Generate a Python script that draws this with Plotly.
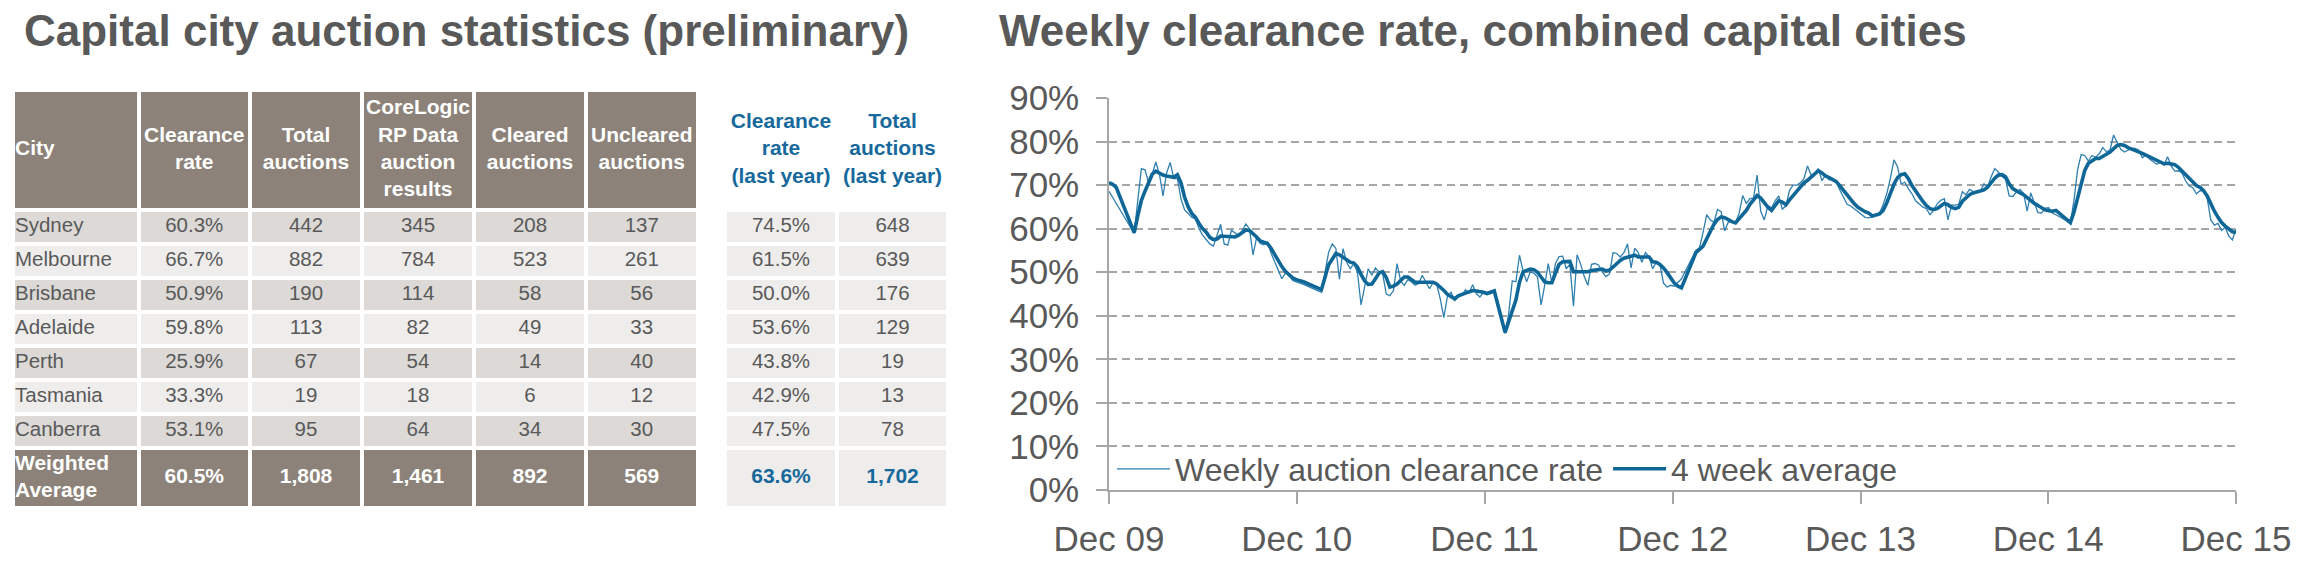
import pandas as pd
import plotly.graph_objects as go

# ---------------- table data ----------------
cities = ["Sydney", "Melbourne", "Brisbane", "Adelaide", "Perth", "Tasmania", "Canberra"]
clearance_rate = [60.3, 66.7, 50.9, 59.8, 25.9, 33.3, 53.1]
total_auctions = [442, 882, 190, 113, 67, 19, 95]
corelogic_results = [345, 784, 114, 82, 54, 18, 64]
cleared_auctions = [208, 523, 58, 49, 14, 6, 34]
uncleared_auctions = [137, 261, 56, 33, 40, 12, 30]
ly_clearance_rate = [74.5, 61.5, 50.0, 53.6, 43.8, 42.9, 47.5]
ly_total_auctions = [648, 639, 176, 129, 19, 13, 78]

avg_label = "Weighted<br>Average"
avg_main = [60.5, 1808, 1461, 892, 569]
avg_last_year = [63.6, 1702]

main_headers = ["City", "Clearance<br>rate", "Total<br>auctions",
                "CoreLogic<br>RP Data<br>auction<br>results",
                "Cleared<br>auctions", "Uncleared<br>auctions"]
ly_headers = ["Clearance<br>rate<br>(last year)", "Total<br>auctions<br>(last year)"]

# ---------------- chart data (weekly, from first week of Dec 2009) ----------------
first_week = "2009-12-06"
weekly_rate = [
    # Dec 09 - Dec 10
    68.6, None, None, None, None, None, None, 58.9, 66.5, 73.8, 73.5, 70.5, 72.5,
    75.3, 72.5, 67.5, 72.8, 75.2, 71.5, 71.5, 66.8, 64.3, 63.5, 62.6, 62.3, 60.0,
    58.5, 57.5, 56.5, 56.0, 58.8, 61.0, 56.5, 56.2, 59.6, 59.0, 58.5, 59.5, 61.1,
    60.0, 54.0, 58.0, 56.6, 56.3, 56.9, 54.4, 52.5, 50.8, 48.5, 49.8, 49.5, 48.1,
    # Dec 10 - Dec 11
    47.8, 47.5, 47.2, None, None, None, None, 45.4, 50.5, 54.6, 56.5, 55.5, 48.4,
    55.4, 52.3, 50.8, 52.0, 50.0, 42.5, 46.5, 50.8, 49.3, 51.0, 50.0, 49.7, 45.0,
    44.6, 45.8, 52.0, 48.0, 47.0, 48.3, 47.8, 47.0, 47.4, 49.3, 47.6, 46.2, 47.6,
    47.3, 43.9, 39.6, 44.5, 45.4, 43.5, 44.3, 44.7, 46.0, 45.3, 47.1, 45.1, 44.3,
    # Dec 11 - Dec 12
    45.4, 45.2, 45.1, 45.8, None, None, 35.9, 40.5, 48.0, 47.8, 53.9, 50.3, 47.8,
    50.1, 49.8, 48.9, 42.5, 47.0, 52.0, 47.5, 52.0, 53.6, 53.7, 50.8, 51.8, 42.2,
    54.0, 51.8, 49.0, 47.0, 51.8, 52.0, 51.6, 50.1, 49.0, 49.6, 54.5, 54.3, 53.5,
    54.5, 56.5, 51.0, 55.5, 54.5, 52.3, 54.5, 53.5, 50.8, 52.3, 51.8, 47.5, 46.6,
    # Dec 12 - Dec 13
    47.0, 46.8, 47.6, 48.5, None, None, None, 55.0, 55.6, 59.2, 63.2, 62.0, 61.5,
    64.4, 63.9, 59.5, 61.5, 61.7, 61.4, 63.5, 67.6, 65.8, 66.9, 67.0, 72.3, 64.0,
    62.0, 65.3, 64.8, 66.4, 67.5, 64.5, 65.2, 68.8, 70.0, 70.0, 70.5, 71.5, 74.4,
    72.3, 72.6, 73.8, 71.0, 72.3, 71.2, 71.4, 70.8, 68.8, 67.0, 65.6, 65.2, 64.5,
    # Dec 13 - Dec 14
    63.8, 63.1, 62.6, 62.5, 62.7, None, 63.6, 65.5, 68.0, 71.5, 75.8, 74.2, 70.2,
    70.7, 69.2, 68.0, 66.4, 65.7, 65.0, 64.6, 63.2, 64.2, 65.7, 66.5, 66.9, 62.0,
    65.4, 65.4, 65.6, 68.5, 67.8, 69.0, 68.5, 68.5, 68.5, 70.3, 69.6, 71.9, 73.8,
    73.0, 72.0, 71.3, 67.5, 67.4, 68.4, 69.0, 68.1, 64.0, 68.2, 65.9, 63.7, 63.6,
    # Dec 14 - Dec 15
    64.7, 64.8, 63.6, 63.2, None, None, None, 61.3, 66.5, 73.5, 77.0, 76.8, 75.5,
    76.8, 76.4, 77.2, 78.6, 77.7, 78.0, 81.5, 79.8, 78.2, 77.6, 78.0, 78.4, 78.4,
    78.0, 76.3, 76.9, 76.0, 75.3, 74.8, 75.3, 74.6, 76.5, 74.4, 73.2, 73.3, 72.8,
    71.0, 69.8, 69.4, 68.0, 68.7, 68.7, 67.0, 62.0, 60.8, 61.2, 59.6, 60.3, 58.3,
    57.4, 60.0,
]
avg_4wk = [
    # Dec 09 - Dec 10
    70.6, 70.2, 69.5, None, None, None, None, 59.1, 63.0, 66.5, 68.6, 70.8, 72.5,
    73.2, 72.7, 72.3, 72.1, 72.0, 71.8, 72.4, 70.5, 67.2, 65.0, 63.5, 62.6, 61.2,
    60.0, 59.2, 58.0, 57.5, 57.6, 58.3, 58.3, 58.3, 58.3, 58.1, 58.5, 59.1, 59.7,
    59.6, 58.9, 58.1, 57.2, 56.8, 56.6, 55.5, 54.0, 52.4, 51.3, 50.2, 49.3, 48.7,
    # Dec 10 - Dec 11
    48.3, 48.0, 47.8, None, None, None, None, 46.0, 49.2, 51.7, 53.0, 54.3, 54.0,
    53.4, 53.0, 52.3, 52.1, 51.2, 49.5, 48.0, 47.2, 47.3, 48.5, 49.8, 50.1, 48.8,
    46.6, 46.8, 47.3, 48.1, 48.9, 48.9, 48.2, 47.7, 47.7, 47.7, 47.7, 47.7, 47.7,
    47.3, 46.6, 45.8, 44.9, 44.3, 43.9, 44.6, 44.8, 45.2, 45.5, 45.8, 45.7, 45.6,
    # Dec 11 - Dec 12
    45.4, 45.1, 45.3, 45.7, None, None, 36.2, 38.5, 40.8, 43.6, 47.7, 50.1, 50.4,
    50.7, 50.6, 50.0, 48.9, 47.8, 47.6, 47.6, 49.8, 51.8, 52.4, 52.5, 52.5, 50.1,
    50.1, 50.2, 50.2, 50.1, 50.4, 50.5, 50.5, 50.7, 50.3, 50.5, 51.2, 52.0, 52.7,
    53.2, 53.5, 53.7, 53.9, 53.5, 53.5, 53.5, 53.5, 52.4, 52.3, 51.8, 51.0, 49.9,
    # Dec 12 - Dec 13
    48.5, 47.5, 46.8, 46.4, None, None, None, 54.5, 55.2, 56.0, 57.7, 59.5, 61.0,
    62.1, 62.7, 62.5, 62.0, 61.6, 61.3, 62.2, 63.4, 64.2, 65.6, 66.6, 67.6, 67.0,
    65.9, 64.9, 64.2, 65.4, 66.4, 66.1, 65.5, 66.6, 67.6, 68.7, 69.5, 70.5, 71.1,
    71.8, 72.6, 73.3, 72.8, 72.1, 71.7, 71.2, 70.8, 69.8, 68.7, 67.6, 66.5, 65.7,
    # Dec 13 - Dec 14
    64.9, 64.3, 63.9, 63.6, 62.9, None, 63.4, 64.2, 65.9, 68.2, 70.2, 71.7, 72.4,
    72.6, 71.5, 69.9, 68.6, 67.5, 66.3, 65.3, 64.6, 64.4, 64.6, 65.2, 65.8, 65.5,
    64.9, 64.6, 64.9, 66.3, 67.2, 67.8, 68.2, 68.4, 68.6, 68.9, 69.5, 70.6, 71.6,
    72.3, 72.4, 71.9, 70.3, 69.2, 68.6, 68.2, 67.8, 67.1, 66.4, 65.8, 65.3, 64.8,
    # Dec 14 - Dec 15
    64.3, 64.1, 64.0, 64.2, None, None, None, 61.4, 63.8, 67.0, 70.0, 73.4, 75.0,
    75.6, 76.1, 76.1, 76.5, 77.1, 77.6, 78.5, 79.1, 79.3, 79.1, 78.6, 78.3, 78.1,
    77.7, 77.3, 76.9, 76.5, 76.1, 75.6, 75.2, 74.9, 75.0, 74.9, 74.7, 74.1, 73.2,
    72.3, 71.5, 70.7, 69.9, 69.5, 68.7, 67.5, 65.5, 64.0, 62.6, 61.4, 60.6, 59.9,
    59.3, 59.1,
]
year_ticks = ["2009-12-06", "2010-12-06", "2011-12-06", "2012-12-06",
              "2013-12-06", "2014-12-06", "2015-12-06"]
year_labels = ["Dec 09", "Dec 10", "Dec 11", "Dec 12", "Dec 13", "Dec 14", "Dec 15"]

weeks = pd.date_range(first_week, periods=len(weekly_rate), freq="7D")

# ---------------- styling / layout constants ----------------
W, H = 2306, 563
FONT = "Liberation Sans, Arial, sans-serif"
GREY = "#595959"
AXIS_GREY = "#a6a6a6"
TAUPE = "#8c8279"
ROW_DARK = "#dcd9d6"
ROW_LIGHT = "#efedec"
BLUE = "#17699c"
LINE_BLUE = "#0f6797"

# table geometry in page pixels (column / row boundaries)
col_edges = [13, 138.5, 250, 362, 474, 586, 697.5, 725, 837, 948]
row_edges = [90, 210]
for _ in cities:
    row_edges.append(row_edges[-1] + 34)
row_edges.append(row_edges[-1] + 60)

col_mid = [(a + b) / 2 for a, b in zip(col_edges[:-1], col_edges[1:])]
row_mid = [(a + b) / 2 for a, b in zip(row_edges[:-1], row_edges[1:])]
main_cols = col_mid[:6]
ly_cols = col_mid[7:]

# fill codes: 0 taupe, 1 dark row, 2 light row, None = no cell
fill_codes = [[0] * 6 + [None, None, None]]
for i in range(len(cities)):
    fill_codes.append([1 if i % 2 == 0 else 2] * 6 + [None, 2, 2])
fill_codes.append([0] * 6 + [None, 2, 2])

fig = go.Figure()

# ---------------- line chart ----------------
fig.add_trace(go.Scatter(
    x=weeks, y=weekly_rate, mode="lines", name="Weekly auction clearance rate",
    connectgaps=True, line=dict(color="#2f7fb0", width=1.3),
))
fig.add_trace(go.Scatter(
    x=weeks, y=avg_4wk, mode="lines", name="4 week average",
    connectgaps=True, line=dict(color=LINE_BLUE, width=3.6),
))

# ---------------- table ----------------
fig.add_trace(go.Heatmap(
    x=col_edges, y=row_edges, z=fill_codes, xaxis="x2", yaxis="y2",
    zmin=0, zmax=2, showscale=False, hoverinfo="skip", xgap=4, ygap=4,
    colorscale=[[0, TAUPE], [0.33, TAUPE], [0.33, ROW_DARK], [0.67, ROW_DARK],
                [0.67, ROW_LIGHT], [1, ROW_LIGHT]],
))


def text_trace(xs, ys, texts, color, size, weight="normal", pos="middle center"):
    return go.Scatter(
        x=xs, y=ys, text=texts, mode="text", textposition=pos,
        xaxis="x2", yaxis="y2", showlegend=False, hoverinfo="skip",
        textfont=dict(family=FONT, size=size, color=color, weight=weight),
    )


# header row
fig.add_trace(text_trace([col_edges[0] + 2], [row_mid[0]], [main_headers[0]],
                         "white", 21, "bold", "middle right"))
fig.add_trace(text_trace(main_cols[1:], [row_mid[0]] * 5, main_headers[1:],
                         "white", 21, "bold"))
fig.add_trace(text_trace(ly_cols, [row_mid[0]] * 2, ly_headers, BLUE, 21, "bold"))

# city rows
city_rows = row_mid[1:1 + len(cities)]
fig.add_trace(text_trace([col_edges[0] + 2] * len(cities), city_rows, cities,
                         GREY, 20.5, "normal", "middle right"))
columns = [
    [f"{v:.1f}%" for v in clearance_rate],
    [f"{v:,}" for v in total_auctions],
    [f"{v:,}" for v in corelogic_results],
    [f"{v:,}" for v in cleared_auctions],
    [f"{v:,}" for v in uncleared_auctions],
    [f"{v:.1f}%" for v in ly_clearance_rate],
    [f"{v:,}" for v in ly_total_auctions],
]
value_x = main_cols[1:] + ly_cols
xs, ys, ts = [], [], []
for cx, col in zip(value_x, columns):
    xs += [cx] * len(col)
    ys += city_rows
    ts += col
fig.add_trace(text_trace(xs, ys, ts, GREY, 20.5))

# weighted average row
avg_y = row_mid[-1]
fig.add_trace(text_trace([col_edges[0] + 2], [avg_y], [avg_label],
                         "white", 21, "bold", "middle right"))
avg_text = [f"{avg_main[0]:.1f}%"] + [f"{v:,}" for v in avg_main[1:]]
fig.add_trace(text_trace(main_cols[1:], [avg_y] * 5, avg_text, "white", 21, "bold"))
fig.add_trace(text_trace(ly_cols, [avg_y] * 2,
                         [f"{avg_last_year[0]:.1f}%", f"{avg_last_year[1]:,}"],
                         BLUE, 21, "bold"))

# ---------------- layout ----------------
plot_left, plot_right = 1109, 2236
plot_top, plot_bottom = 98, 490

fig.update_layout(
    width=W, height=H, margin=dict(l=0, r=0, t=0, b=0, autoexpand=False),
    paper_bgcolor="white", plot_bgcolor="rgba(0,0,0,0)",
    font=dict(family=FONT, color=GREY),
    xaxis=dict(
        domain=[plot_left / W, plot_right / W], type="date",
        range=[weeks[0], weeks[-1]], tickvals=year_ticks, ticktext=year_labels,
        ticks="outside", ticklen=12, tickwidth=1.5, tickcolor=AXIS_GREY,
        showline=True, linecolor=AXIS_GREY, linewidth=1.5, showgrid=False,
        tickfont=dict(size=35, color=GREY), ticklabelstandoff=5,
    ),
    yaxis=dict(
        domain=[1 - plot_bottom / H, 1 - plot_top / H], range=[0, 90], dtick=10,
        ticksuffix="%", ticks="outside", ticklen=11, tickwidth=1.5,
        tickcolor=AXIS_GREY, showline=True, linecolor=AXIS_GREY, linewidth=1.5,
        showgrid=True, gridcolor=AXIS_GREY, gridwidth=1.5, griddash="8px,5px",
        zeroline=False, tickfont=dict(size=35, color=GREY), ticklabelstandoff=10,
    ),
    xaxis2=dict(domain=[0, 1], range=[0, W], visible=False, fixedrange=True),
    yaxis2=dict(domain=[0, 1], range=[H, 0], visible=False, fixedrange=True),
    legend=dict(
        orientation="h", x=1112 / W, xanchor="left", y=1 - 469 / H, yanchor="middle",
        bgcolor="rgba(0,0,0,0)", font=dict(size=32, color=GREY), itemwidth=53,
    ),
    annotations=[
        dict(text="Capital city auction statistics (preliminary)", xref="paper",
             yref="paper", x=22 / W, y=1 - 30 / H, xanchor="left", yanchor="middle",
             showarrow=False, font=dict(size=44, color=GREY, weight="bold")),
        dict(text="Weekly clearance rate, combined capital cities", xref="paper",
             yref="paper", x=997 / W, y=1 - 30 / H, xanchor="left", yanchor="middle",
             showarrow=False, font=dict(size=44, color=GREY, weight="bold")),
    ],
)

fig.write_html("out.html", config={"displayModeBar": False},
               post_script="document.body.style.margin='0';")
